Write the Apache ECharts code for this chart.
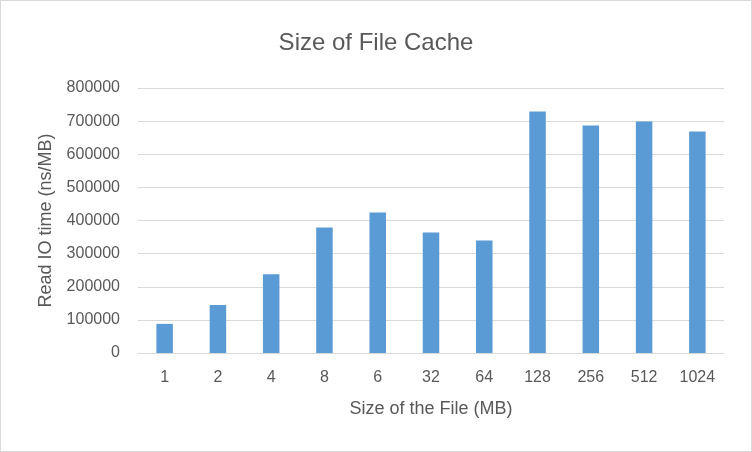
<!DOCTYPE html>
<html><head><meta charset="utf-8">
<script src="https://cdn.jsdelivr.net/npm/echarts@6/dist/echarts.min.js"></script>
<style>html,body{margin:0;padding:0;background:#fff}#c{width:752px;height:452px;box-sizing:border-box;border:1px solid #d9d9d9}</style>
</head><body><div id="c"></div>
<script>
const categories = ['1','2','4','8','6','32','64','128','256','512','1024'];
const readIOTime = [88000,145000,238000,379000,424000,364000,340000,729000,687000,699000,669000];
const yTicks = {min:0, max:800000, interval:100000};
const font = 'Liberation Sans';
const chart = echarts.init(document.getElementById('c'));
chart.setOption({
  animation:false,
  title:{text:'Size of File Cache', left:'center', top:25, textStyle:{fontFamily:font, fontSize:24, fontWeight:'normal', color:'#595959'}},
  grid:{left:137, right:27, top:87, bottom:98},
  xAxis:{type:'category', data:categories, name:'Size of the File (MB)', nameLocation:'middle', nameGap:47,
    nameTextStyle:{fontFamily:font, fontSize:18, color:'#595959'},
    axisLine:{lineStyle:{color:'#d9d9d9', width:1}}, axisTick:{show:false},
    axisLabel:{fontFamily:font, fontSize:16, color:'#595959', margin:17}},
  yAxis:{type:'value', min:yTicks.min, max:yTicks.max, interval:yTicks.interval, name:'Read IO time (ns/MB)', nameLocation:'middle', nameGap:83,
    nameTextStyle:{fontFamily:font, fontSize:18, color:'#595959'},
    axisLine:{show:false}, axisTick:{show:false},
    splitLine:{lineStyle:{color:'#d9d9d9', width:1}},
    axisLabel:{fontFamily:font, fontSize:16, color:'#595959', margin:18, formatter:function(v){return String(v);}}},
  series:[{type:'bar', data:readIOTime, barWidth:'31%', itemStyle:{color:'#5b9bd5'}}]
});
</script></body></html>
